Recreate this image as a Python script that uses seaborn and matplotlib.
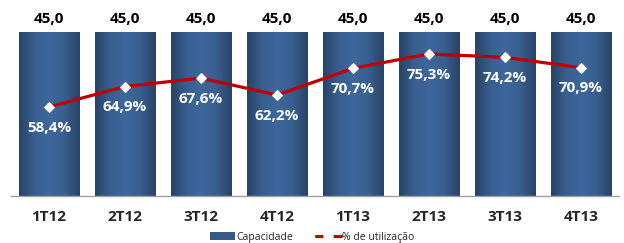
import matplotlib.pyplot as plt
import numpy as np
import pandas as pd
import seaborn as sns
from matplotlib.colors import LinearSegmentedColormap
from matplotlib.lines import Line2D
from matplotlib.patches import Patch

trimestres = ['1T12', '2T12', '3T12', '4T12', '1T13', '2T13', '3T13', '4T13']
capacidade = [45.0, 45.0, 45.0, 45.0, 45.0, 45.0, 45.0, 45.0]
utilizacao = [58.4, 64.9, 67.6, 62.2, 70.7, 75.3, 74.2, 70.9]

sns.set_theme(style='white')
plt.rcParams['font.family'] = ['Open Sans', 'DejaVu Sans']

df = pd.DataFrame({'tri': trimestres, 'cap': capacidade, 'util': utilizacao})

fig = plt.figure(figsize=(6.24, 2.43), dpi=100)
ax = fig.add_axes([11 / 624, 47 / 243, 608 / 624, 186 / 243])

sns.barplot(data=df, x='tri', y='cap', ax=ax, color='#36598a', width=0.8,
            saturation=1, edgecolor='none')

# horizontal gradient on each bar (dark edges, lighter middle)
grad = LinearSegmentedColormap.from_list(
    'g', ['#2a4366', '#395f90', '#3f679c', '#395f90', '#2a4366'])
g = np.linspace(0, 1, 64).reshape(1, -1)
for p in ax.patches:
    x0, y0 = p.get_x(), p.get_y()
    w, h = p.get_width(), p.get_height()
    im = ax.imshow(g, cmap=grad, aspect='auto', extent=[x0, x0 + w, y0, y0 + h],
                   zorder=p.get_zorder() + 0.1)
    im.set_clip_path(p)
    ax.text(x0 + w / 2, y0 + h + 3.5, f'{h:.1f}'.replace('.', ','),
            ha='center', va='center', fontsize=11, fontweight='bold', color='black')

ax.set_xlim(-0.5, len(trimestres) - 0.5)
ax.set_ylim(0, 51.0)
ax.set_xlabel('')
ax.set_ylabel('')
ax.set_yticks([])
ax.tick_params(axis='x', length=0, pad=10, labelsize=11)
for lab in ax.get_xticklabels():
    lab.set_fontweight('bold')
for s in ['top', 'right', 'left']:
    ax.spines[s].set_visible(False)
ax.spines['bottom'].set_color('#a0a0a0')
ax.spines['bottom'].set_linewidth(1)

ax2 = ax.twinx()
sns.lineplot(data=df, x='tri', y='util', ax=ax2, color='#c00000', linewidth=2.3,
             marker='D', markersize=5, markerfacecolor='white',
             markeredgecolor='white', sort=False)
ax2.set_ylim(30, 89.3)
ax2.set_yticks([])
ax2.set_ylabel('')
for s in ['top', 'right', 'left', 'bottom']:
    ax2.spines[s].set_visible(False)
for i, v in enumerate(utilizacao):
    ax2.text(i, v - 6.6, f'{v:.1f}%'.replace('.', ','), ha='center', va='center',
             fontsize=11, fontweight='bold', color='white')

handles = [Patch(facecolor='#36598a', edgecolor='none'),
           Line2D([0], [0], color='#c00000', linewidth=2.3, marker='D',
                  markersize=5, markerfacecolor='white', markeredgecolor='white')]
fig.legend(handles, ['Capacidade', '% de utilização'], loc='center',
           bbox_to_anchor=(0.5, 6 / 243), ncol=2, frameon=False, fontsize=7.5,
           handlelength=2.4, handleheight=0.8, columnspacing=2.2, handletextpad=0.1,
           borderpad=0)

fig.savefig('out.png', dpi=100)
